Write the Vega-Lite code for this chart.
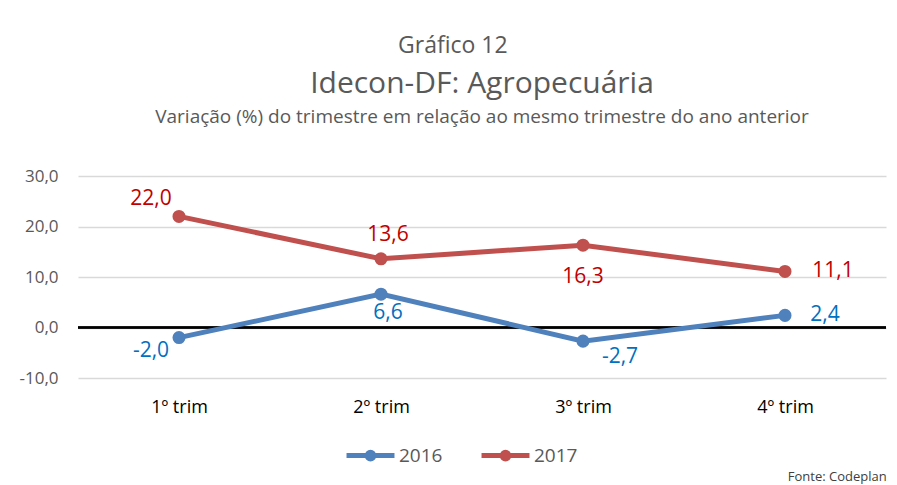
{
  "$schema": "https://vega.github.io/schema/vega-lite/v6.json",
  "background": "white",
  "padding": {"left": 18, "right": 8, "top": 35, "bottom": 2},
  "config": {
    "font": "Open Sans",
    "locale": {"number": {"decimal": ",", "thousands": ".", "grouping": [3], "currency": ["R$", ""], "minus": "-"}},
    "view": {"stroke": null},
    "axis": {"labelFont": "Open Sans"},
    "legend": {"labelFont": "Open Sans"},
    "title": {"font": "Open Sans"}
  },
  "title": {"text": "Fonte: Codeplan", "orient": "bottom", "anchor": "end", "fontSize": 13, "fontWeight": "normal", "color": "#404040", "offset": 2},
  "vconcat": [
    {
      "title": {"text": "Gráfico 12", "fontSize": 23, "fontWeight": "normal", "color": "#595959", "anchor": "middle", "offset": 11},
      "vconcat": [
        {
          "title": {"text": "Idecon-DF: Agropecuária", "fontSize": 30, "fontWeight": "normal", "color": "#595959", "anchor": "middle", "subtitle": "Variação (%) do trimestre em relação ao mesmo trimestre do ano anterior", "subtitleFontSize": 19, "subtitleColor": "#595959", "subtitleFont": "Open Sans", "subtitlePadding": 9, "offset": 40},
          "width": 808,
          "height": 202,
          "data": {"values": [
            {"trim": "1º trim", "serie": "2016", "valor": -2.0},
            {"trim": "2º trim", "serie": "2016", "valor": 6.6},
            {"trim": "3º trim", "serie": "2016", "valor": -2.7},
            {"trim": "4º trim", "serie": "2016", "valor": 2.4},
            {"trim": "1º trim", "serie": "2017", "valor": 22.0},
            {"trim": "2º trim", "serie": "2017", "valor": 13.6},
            {"trim": "3º trim", "serie": "2017", "valor": 16.3},
            {"trim": "4º trim", "serie": "2017", "valor": 11.1}
          ]},
          "encoding": {
            "x": {"field": "trim", "type": "nominal", "sort": ["1º trim", "2º trim", "3º trim", "4º trim"], "scale": {"type": "point", "padding": 0.5},
              "axis": {"title": null, "domain": false, "ticks": false, "labelAngle": 0, "labelFontSize": 18, "labelColor": "#000000", "labelPadding": 20, "grid": false}},
            "y": {"field": "valor", "type": "quantitative", "scale": {"domain": [-10, 30], "nice": false},
              "axis": {"title": null, "values": [-10, 0, 10, 20, 30], "format": ".1f", "domain": false, "ticks": false, "labelFontSize": 17, "labelColor": "#595959", "labelPadding": 20, "gridColor": "#d9d9d9", "gridWidth": 1.5}}
          },
          "layer": [
            {"mark": {"type": "rule", "color": "#000000", "strokeWidth": 1.5}, "encoding": {"y": {"datum": 0}, "x": {"value": 0}, "x2": {"value": 808}}},
            {"mark": {"type": "line", "strokeWidth": 5, "point": {"size": 170, "filled": true, "opacity": 1}},
              "encoding": {"color": {"field": "serie", "type": "nominal", "scale": {"domain": ["2016", "2017"], "range": ["#4F81BD", "#C0504D"]},
                "legend": {"title": null, "orient": "none", "legendX": 266, "legendY": 253, "direction": "horizontal", "labelFontSize": 19, "labelColor": "#595959", "symbolType": "M-1,0L1,0M-0.14,0a0.14,0.14 0 1,0 0.28,0a0.14,0.14 0 1,0 -0.28,0", "symbolSize": 2300, "symbolStrokeWidth": 5, "columnPadding": 28, "labelOffset": 2,
                  "encode": {"symbols": {"update": {"fill": {"scale": "color", "field": "value"}}}}}}}},
            {"transform": [{"filter": "datum.serie=='2016' && datum.trim=='1º trim'"}], "mark": {"type": "text", "dx": -28, "dy": 13, "fontSize": 21, "color": "#0070C0"}, "encoding": {"text": {"field": "valor", "type": "quantitative", "format": ".1f"}}},
            {"transform": [{"filter": "datum.serie=='2016' && datum.trim=='2º trim'"}], "mark": {"type": "text", "dx": 7, "dy": 19, "fontSize": 21, "color": "#0070C0"}, "encoding": {"text": {"field": "valor", "type": "quantitative", "format": ".1f"}}},
            {"transform": [{"filter": "datum.serie=='2016' && datum.trim=='3º trim'"}], "mark": {"type": "text", "dx": 37, "dy": 16, "fontSize": 21, "color": "#0070C0"}, "encoding": {"text": {"field": "valor", "type": "quantitative", "format": ".1f"}}},
            {"transform": [{"filter": "datum.serie=='2016' && datum.trim=='4º trim'"}], "mark": {"type": "text", "dx": 40, "dy": 0, "fontSize": 21, "color": "#0070C0"}, "encoding": {"text": {"field": "valor", "type": "quantitative", "format": ".1f"}}},
            {"transform": [{"filter": "datum.serie=='2017' && datum.trim=='1º trim'"}], "mark": {"type": "text", "dx": -28, "dy": -17, "fontSize": 21, "color": "#C00000"}, "encoding": {"text": {"field": "valor", "type": "quantitative", "format": ".1f"}}},
            {"transform": [{"filter": "datum.serie=='2017' && datum.trim=='2º trim'"}], "mark": {"type": "text", "dx": 7, "dy": -24, "fontSize": 21, "color": "#C00000"}, "encoding": {"text": {"field": "valor", "type": "quantitative", "format": ".1f"}}},
            {"transform": [{"filter": "datum.serie=='2017' && datum.trim=='3º trim'"}], "mark": {"type": "text", "dx": 0, "dy": 32, "fontSize": 21, "color": "#C00000"}, "encoding": {"text": {"field": "valor", "type": "quantitative", "format": ".1f"}}},
            {"transform": [{"filter": "datum.serie=='2017' && datum.trim=='4º trim'"}], "mark": {"type": "text", "dx": 48, "dy": 0, "fontSize": 21, "color": "#C00000"}, "encoding": {"text": {"field": "valor", "type": "quantitative", "format": ".1f"}}}
          ]
        }
      ]
    }
  ]
}
